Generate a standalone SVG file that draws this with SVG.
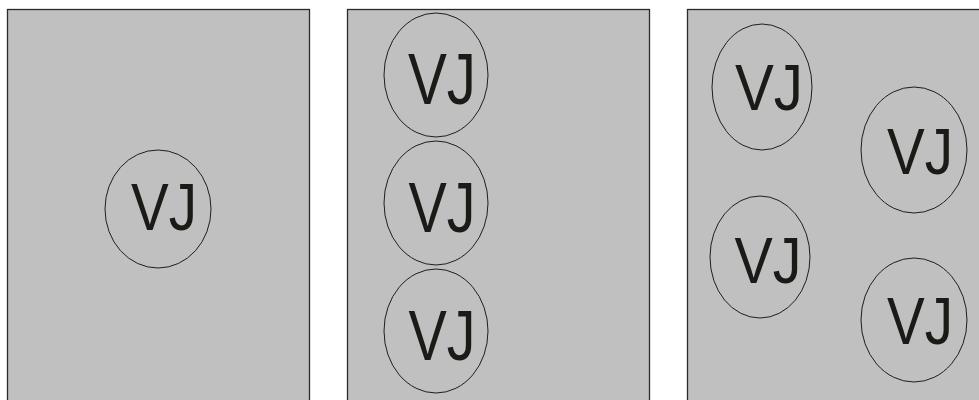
<svg xmlns="http://www.w3.org/2000/svg" width="979" height="400" viewBox="0 0 979 400">
  <style>
    .panel { fill: #c0c0c0; stroke: #2a2a2a; stroke-width: 1.3; }
    .vj { fill: none; stroke: #1e1e1e; stroke-width: 1; }
    .lbl { font-family: "Liberation Sans", Arial, sans-serif; font-size: 67px; fill: #1c1a17; text-anchor: middle; }
  </style>
  <rect x="0" y="0" width="979" height="400" fill="#ffffff"/>

  <!-- Panel 1: single centered unit -->
  <g id="panel1">
    <rect class="panel" x="7.5" y="9.5" width="302" height="400"/>
  </g>
  <g id="p1-vj1">
    <ellipse class="vj" cx="158" cy="209" rx="53" ry="59"/>
    <text class="lbl" x="164" y="230" textLength="66" lengthAdjust="spacingAndGlyphs">VJ</text>
  </g>

  <!-- Panel 2: vertical stack of three units -->
  <g id="panel2">
    <rect class="panel" x="347.5" y="9.5" width="302" height="400"/>
  </g>
  <g id="p2-vj1">
    <ellipse class="vj" cx="436" cy="75" rx="52" ry="62"/>
    <text class="lbl" x="442" y="104" style="font-size:72px" textLength="68" lengthAdjust="spacingAndGlyphs">VJ</text>
  </g>
  <g id="p2-vj2">
    <ellipse class="vj" cx="436" cy="203" rx="52" ry="62"/>
    <text class="lbl" x="442" y="232" style="font-size:70px" textLength="67" lengthAdjust="spacingAndGlyphs">VJ</text>
  </g>
  <g id="p2-vj3">
    <ellipse class="vj" cx="436" cy="331" rx="52" ry="62"/>
    <text class="lbl" x="442" y="360" style="font-size:70px" textLength="67" lengthAdjust="spacingAndGlyphs">VJ</text>
  </g>

  <!-- Panel 3: staggered grid of four units -->
  <g id="panel3">
    <rect class="panel" x="687.5" y="9.5" width="300" height="400"/>
  </g>
  <g id="p3-vj1">
    <ellipse class="vj" cx="762" cy="87" rx="50" ry="63"/>
    <text class="lbl" x="769" y="110" style="font-size:65px" textLength="68" lengthAdjust="spacingAndGlyphs">VJ</text>
  </g>
  <g id="p3-vj2">
    <ellipse class="vj" cx="914" cy="150" rx="53" ry="63"/>
    <text class="lbl" x="920" y="174" style="font-size:65px" textLength="66" lengthAdjust="spacingAndGlyphs">VJ</text>
  </g>
  <g id="p3-vj3">
    <ellipse class="vj" cx="760" cy="257" rx="50" ry="61"/>
    <text class="lbl" x="768" y="283" style="font-size:65px" textLength="67" lengthAdjust="spacingAndGlyphs">VJ</text>
  </g>
  <g id="p3-vj4">
    <ellipse class="vj" cx="914" cy="320" rx="53" ry="62"/>
    <text class="lbl" x="920" y="344" style="font-size:66px" textLength="66" lengthAdjust="spacingAndGlyphs">VJ</text>
  </g>

  <!-- no connectors in this figure -->
  <g id="connectors"/>
</svg>
